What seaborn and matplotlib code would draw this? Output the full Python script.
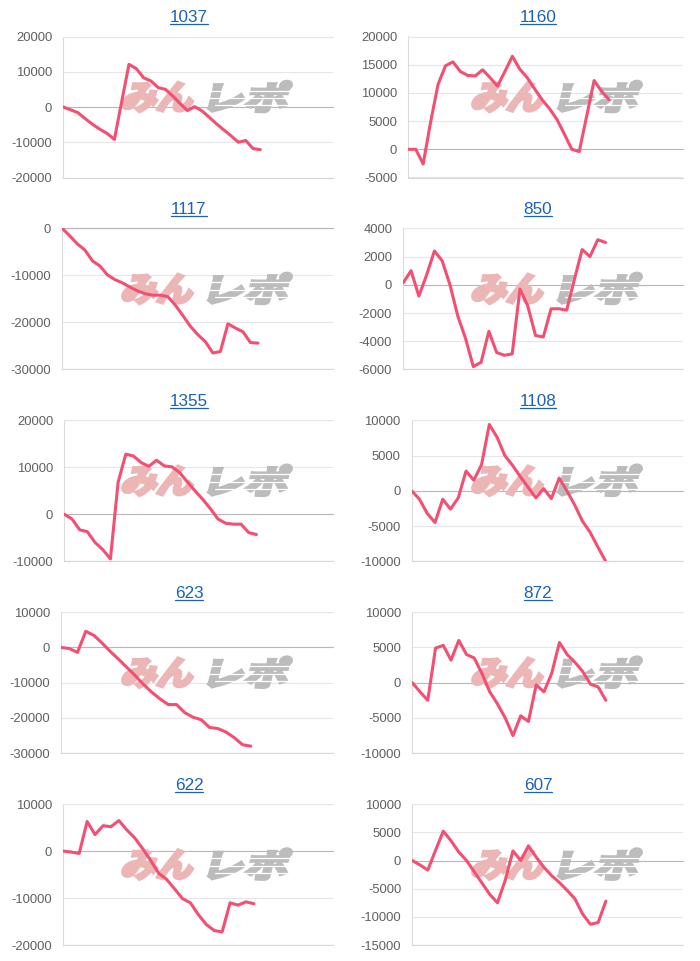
import numpy as np
import matplotlib
matplotlib.use("Agg")
import matplotlib.pyplot as plt
import seaborn as sns
from matplotlib.textpath import TextPath
from matplotlib.patches import PathPatch
from matplotlib.font_manager import FontProperties
from matplotlib.transforms import Affine2D
from matplotlib.lines import Line2D

# ---------------- data ----------------
titles = ["1037", "1160", "1117", "850", "1355", "1108", "623", "872", "622", "607"]

s1037 = [0, -800, -1600, -3300, -4900, -6300, -7500, -9200, 1500, 12100, 10900, 8300, 7400,
         5500, 5000, 3100, 1000, -1000, 100, -1100, -2900, -4800, -6500, -8200, -10000,
         -9500, -11800, -12100]
s1160 = [0, 0, -2600, 4800, 11500, 14800, 15500, 13800, 13100, 13000, 14100, 12700, 11200,
         13800, 16500, 14200, 12700, 10700, 8800, 7200, 5300, 2700, 0, -400, 5900, 12200,
         10300, 8800]
s1117 = [0, -1600, -3300, -4600, -6900, -8000, -9900, -10900, -11600, -12500, -13300, -13900,
         -14200, -14200, -14500, -16300, -18500, -20800, -22600, -24100, -26500, -26200,
         -20300, -21200, -22000, -24300, -24400]
s850 = [150, 1000, -800, 700, 2400, 1700, 0, -2200, -3800, -5800, -5500, -3300, -4800, -5000,
        -4900, -300, -1500, -3600, -3700, -1700, -1700, -1800, 400, 2500, 2000, 3200, 3000]
s1355 = [0, -1000, -3300, -3700, -6000, -7500, -9500, 6800, 12800, 12400, 11000, 10200, 11500,
         10300, 10100, 8900, 6900, 5000, 3200, 1200, -1000, -1900, -2100, -2100, -3900, -4300]
s1108 = [0, -1200, -3200, -4500, -1200, -2600, -1000, 2800, 1500, 3700, 9400, 7600, 5000, 3600,
         2000, 500, -1000, 300, -1100, 1800, 0, -2000, -4300, -5900, -8000, -10000]
s623 = [0, -300, -1400, 4600, 3400, 1200, -1200, -3400, -5700, -8000, -10500, -12700, -14600,
        -16200, -16200, -18500, -19800, -20500, -22700, -23000, -24000, -25600, -27600, -28000]
s872 = [0, -1300, -2500, 4900, 5300, 3200, 6000, 4000, 3500, 1300, -1300, -3000, -5000, -7500,
        -4700, -5500, -300, -1300, 1300, 5700, 4000, 2900, 1600, -200, -600, -2500]
s622 = [0, -200, -500, 6300, 3500, 5400, 5200, 6500, 4500, 2800, 500, -2000, -4700, -6000,
        -8000, -10100, -11000, -13500, -15600, -16900, -17200, -11000, -11500, -10800, -11200]
s607 = [0, -800, -1700, 1800, 5200, 3500, 1500, 0, -2000, -4000, -6000, -7500, -3500, 1700, 0,
        2600, 600, -1200, -2700, -3900, -5300, -6800, -9500, -11300, -11000, -7200]

ticks1037 = [-20000, -10000, 0, 10000, 20000]
ticks1160 = [-5000, 0, 5000, 10000, 15000, 20000]
ticks1117 = [-30000, -20000, -10000, 0]
ticks850 = [-6000, -4000, -2000, 0, 2000, 4000]
ticks1355 = [-10000, 0, 10000, 20000]
ticks1108 = [-10000, -5000, 0, 5000, 10000]
ticks623 = [-30000, -20000, -10000, 0, 10000]
ticks872 = [-10000, -5000, 0, 5000, 10000]
ticks622 = [-20000, -10000, 0, 10000]
ticks607 = [-15000, -10000, -5000, 0, 5000, 10000]

series = [s1037, s1160, s1117, s850, s1355, s1108, s623, s872, s622, s607]
ticks = [ticks1037, ticks1160, ticks1117, ticks850, ticks1355, ticks1108, ticks623,
         ticks872, ticks622, ticks607]

# ---------------- style ----------------
sns.set_style("white")
plt.rcParams["font.family"] = ["Liberation Sans", "DejaVu Sans"]

W, H = 700, 961
fig = plt.figure(figsize=(W / 100, H / 100), dpi=100)

LINE = "#f34f72"
GRID = "#e6e6e6"
ZERO = "#b8b8b8"
TITLE = "#1b62b8"
PINK = "#ecb6b6"
GRAY = "#bcbcbc"

axes_left = [63.3, 408.3, 62.3, 403.3, 64.3, 411.7, 61.0, 412.3, 63.3, 412.3]
axes_right = [333.3, 683.3]
title_cx = [189, 538]
PITCH = 191.9

wm_fp = FontProperties(family="Noto Sans CJK JP", weight="bold")


def add_wm(ax, text, x0, ytop, w, h, color, slant=14):
    tp = TextPath((0, 0), text, size=100, prop=wm_fp)
    e = tp.get_extents()
    t = np.tan(np.radians(slant))
    sx = (w - h * t) / e.width
    sy = h / e.height
    tr = (Affine2D().translate(-e.x0, -e.y0).scale(sx, sy).skew_deg(slant, 0)
          .translate(x0, H - ytop - h).scale(1 / W, 1 / H) + fig.transFigure)
    p = PathPatch(tp, transform=tr, fc=color, ec=color, lw=2.6, joinstyle="miter",
                  zorder=1, clip_on=False)
    ax.add_artist(p)


def add_stripes(ax, x0, ytop, w, h, fracs):
    for f, a, b in fracs:
        y = 1 - (ytop + h * f) / H
        ax.add_artist(Line2D([(x0 + w * a) / W, (x0 + w * b) / W], [y, y], color="white",
                             lw=0.9, transform=fig.transFigure, zorder=1.2, clip_on=False))


title_texts = []
for k in range(10):
    r, c = divmod(k, 2)
    top = 36.5 + PITCH * r
    bot = 177.5 + PITCH * r
    L = axes_left[k]
    R = axes_right[c]
    ax = fig.add_axes([L / W, 1 - bot / H, (R - L) / W, (bot - top) / H])
    vals = series[k]
    n = len(vals)
    sns.lineplot(x=np.arange(n), y=vals, ax=ax, color=LINE, linewidth=2.2, zorder=3)
    ax.set_xlim(0, n + 9)
    tk = ticks[k]
    ax.set_ylim(tk[0], tk[-1])
    ax.set_yticks(tk)
    ax.set_yticklabels([str(v) for v in tk])
    ax.set_xticks([])
    ax.set_xlabel("")
    ax.set_ylabel("")
    ax.grid(axis="y", color=GRID, lw=0.8)
    ax.set_axisbelow(True)
    ax.axhline(0, color=ZERO, lw=0.8, zorder=0.7, clip_on=False)
    ax.spines["right"].set_visible(False)
    ax.spines["top"].set_color(ZERO if tk[-1] == 0 else GRID)
    ax.spines["top"].set_linewidth(0.8)
    ax.spines["left"].set_color("#dcdcdc")
    ax.spines["left"].set_linewidth(0.8)
    ax.spines["bottom"].set_color("#d6d6d6")
    ax.spines["bottom"].set_linewidth(0.8)
    ax.tick_params(axis="y", length=5.5, width=0.8, color=GRID, pad=2.5,
                   labelsize=9.4, labelcolor="#606060")

    cx0 = 350 * c
    add_wm(ax, "みん", cx0 + 121, top + 46, 76, 29, PINK)
    add_wm(ax, "レポ", cx0 + 208, top + 45, 84, 30, GRAY)
    add_stripes(ax, cx0 + 206, top + 45, 88, 30,
                [(0.30, 0.05, 0.95), (0.55, 0.0, 0.9), (0.78, 0.1, 1.0)])

    t = fig.text(title_cx[c] / W, 1 - (22 + PITCH * r) / H, titles[k], ha="center",
                 va="baseline", fontsize=12.3, color=TITLE)
    title_texts.append((t, r))

fig.canvas.draw()
renderer = fig.canvas.get_renderer()
for t, r in title_texts:
    bb = t.get_window_extent(renderer)
    y = 1 - (24.0 + PITCH * r) / H
    fig.add_artist(Line2D([bb.x0 / W, bb.x1 / W], [y, y], color=TITLE, lw=0.9,
                          transform=fig.transFigure))

fig.savefig("out.png", dpi=100)
